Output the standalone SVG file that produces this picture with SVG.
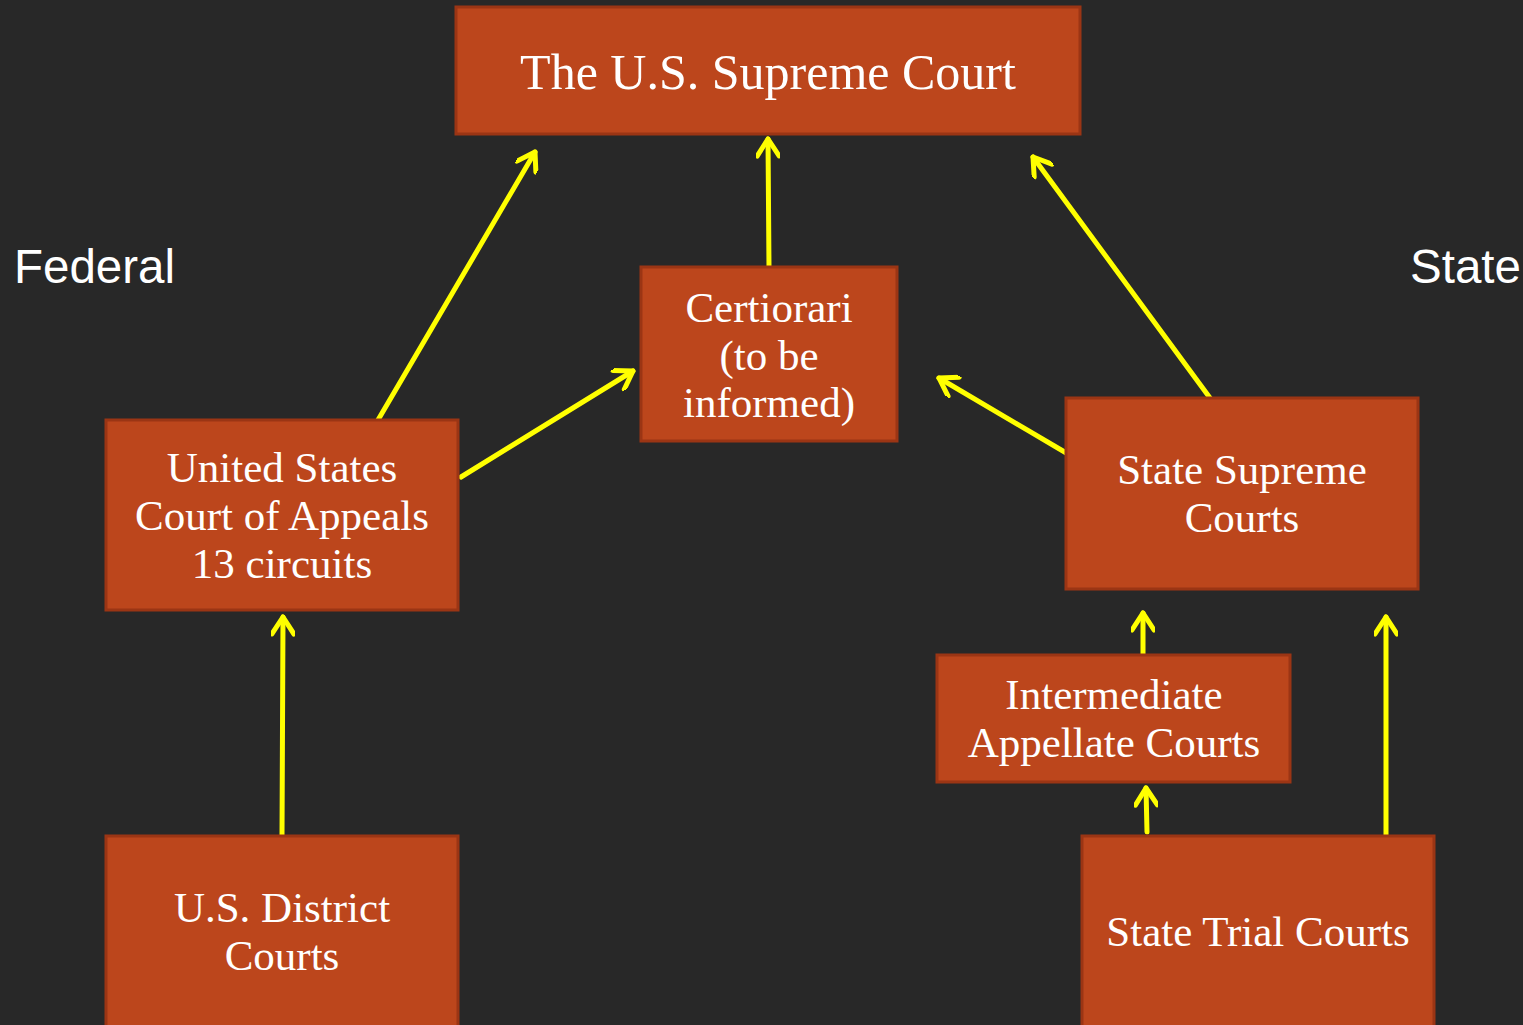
<svg xmlns="http://www.w3.org/2000/svg" width="1523" height="1025" viewBox="0 0 1523 1025">
<defs>
<style>
.box{fill:#BC461C;stroke:#9B3514;stroke-width:3}
.t{font-family:"Liberation Serif",serif;fill:#ffffff;text-anchor:middle;font-size:43px}
.title{font-size:50px}
.lbl{font-family:"Liberation Sans",sans-serif;fill:#ffffff;font-size:47.5px}
.c{stroke:#FFFF00;stroke-width:5;fill:none;stroke-linecap:round;marker-end:url(#ah)}
</style>
<marker id="ah" viewBox="-20 -12 24 24" refX="0" refY="0" markerWidth="24" markerHeight="24" markerUnits="userSpaceOnUse" orient="auto">
<path d="M-17,-11 L0,0 L-17,11" fill="none" stroke="#FFFF00" stroke-width="5" stroke-linecap="round" stroke-linejoin="round"/>
</marker>
</defs>
<rect width="1523" height="1025" fill="#282828"/>
<text class="lbl" x="14" y="283">Federal</text>
<text class="lbl" x="1410" y="283">State</text>
<g id="connectors">
<line class="c" x1="378" y1="420" x2="535" y2="152"/>
<line class="c" x1="769" y1="267" x2="768" y2="139"/>
<line class="c" x1="1210" y1="398" x2="1033" y2="157"/>
<line class="c" x1="461" y1="477" x2="633" y2="371"/>
<line class="c" x1="1068" y1="454" x2="939" y2="378"/>
<line class="c" x1="282" y1="836" x2="283" y2="617"/>
<line class="c" x1="1143" y1="656" x2="1143" y2="613"/>
<line class="c" x1="1147" y1="832" x2="1146" y2="788"/>
<line class="c" x1="1386" y1="836" x2="1386" y2="617"/>
</g>
<g id="supreme">
<rect class="box" x="456" y="7" width="624" height="127"/>
<text class="t title" x="768" y="89">The U.S. Supreme Court</text>
</g>
<g id="certiorari">
<rect class="box" x="641" y="267" width="256" height="174"/>
<text class="t" x="769" y="322">Certiorari</text>
<text class="t" x="769" y="370">(to be</text>
<text class="t" x="769" y="417">informed)</text>
</g>
<g id="appeals">
<rect class="box" x="106" y="420" width="352" height="190"/>
<text class="t" x="282" y="482">United States</text>
<text class="t" x="282" y="530">Court of Appeals</text>
<text class="t" x="282" y="578">13 circuits</text>
</g>
<g id="statesupreme">
<rect class="box" x="1066" y="398" width="352" height="191"/>
<text class="t" x="1242" y="484">State Supreme</text>
<text class="t" x="1242" y="532">Courts</text>
</g>
<g id="intermediate">
<rect class="box" x="937" y="655" width="353" height="127"/>
<text class="t" x="1114" y="709">Intermediate</text>
<text class="t" x="1114" y="757">Appellate Courts</text>
</g>
<g id="district">
<rect class="box" x="106" y="836" width="352" height="200"/>
<text class="t" x="282" y="922">U.S. District</text>
<text class="t" x="282" y="970">Courts</text>
</g>
<g id="trial">
<rect class="box" x="1082" y="836" width="352" height="200"/>
<text class="t" x="1258" y="946">State Trial Courts</text>
</g>
</svg>
